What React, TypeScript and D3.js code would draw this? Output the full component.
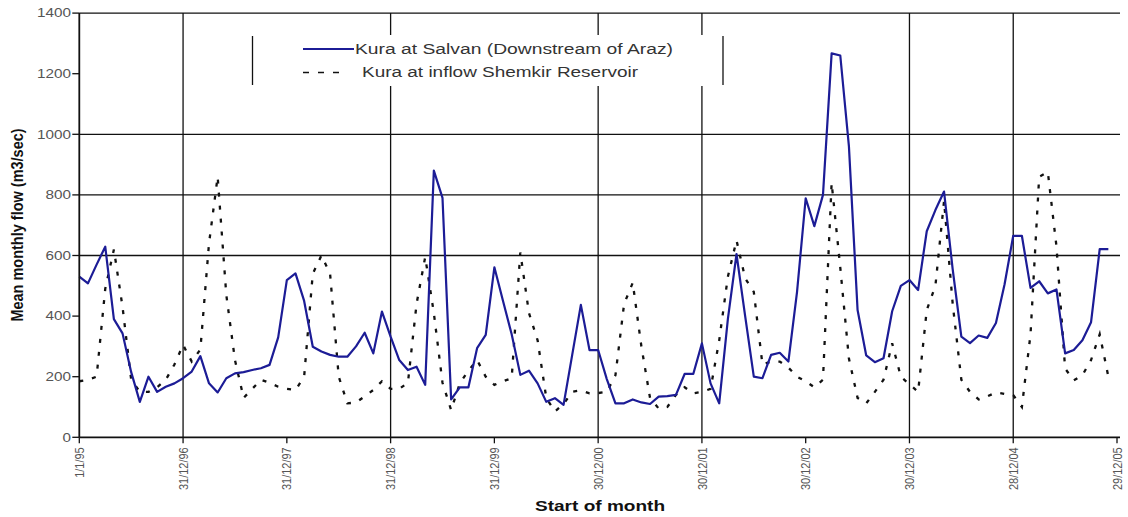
import React from "react";
import * as d3 from "d3";

const tickLabels = ["1/1/95","31/12/96","31/12/97","31/12/98","31/12/99","30/12/00","30/12/01","30/12/02","30/12/03","28/12/04","29/12/05"];
const yTicks = [0, 200, 400, 600, 800, 1000, 1200, 1400];
const hGridValues = [600, 800, 1000, 1400];
const vGridTickIdx = [1, 3, 5, 6, 8, 9];

const salyan = [
  530, 508, 570, 629, 390, 343, 215, 117, 200, 150, 167, 178,
  195, 217, 268, 178, 148, 195, 211, 215, 222, 228, 239, 330,
  519, 541, 450, 299, 283, 272, 266, 266, 300, 345, 277, 415,
  332, 255, 222, 233, 173, 880, 790, 125, 165, 165, 294, 338,
  561, 450, 340, 206, 220, 178, 117, 129, 107, 272, 437, 288,
  288, 192, 112, 112, 125, 115, 110, 134, 136, 140, 209, 209,
  310, 178, 112, 390, 605, 400, 200, 195, 272, 279, 250, 480,
  789, 697, 800, 1267, 1260, 960, 420, 270, 248, 261, 416, 500,
  519, 486, 680, 750, 811, 554, 332, 311, 336, 328, 377, 505,
  665, 665, 493, 515, 475, 488, 277, 288, 320, 380, 621, 621,
];

const shemkir = [
  185, 190, 200, 490, 620, 430, 190, 150, 150, 165, 190, 240,
  305, 250, 290, 640, 860, 470, 255, 130, 160, 190, 180, 167,
  160, 156, 200, 540, 600, 540, 200, 112, 115, 135, 156, 185,
  160, 160, 180, 440, 595, 410, 180, 90, 178, 220, 255, 200,
  173, 185, 195, 610, 410, 320, 130, 85, 110, 150, 155, 145,
  146, 150, 205, 440, 510, 300, 130, 95, 100, 140, 165, 145,
  150, 160, 320, 530, 650, 525, 480, 240, 250, 250, 230, 200,
  185, 165, 190, 840, 560, 260, 130, 112, 150, 190, 310, 200,
  175, 150, 420, 500, 780, 440, 190, 150, 125, 135, 148, 143,
  139, 100, 340, 860, 876, 630, 227, 188, 205, 255, 340, 200,
];

const seriesNames = ["Kura at Salvan (Downstream of Araz)", "Kura at inflow Shemkir Reservoir"];

const W = 1128, H = 517;
const left = 79.3, right = 1117, top = 13.1, bottom = 437.3;
const FONT = "'Liberation Sans', Arial, sans-serif";

export default function App() {
  const x = d3.scaleLinear().domain([0, 120]).range([left, right]);
  const y = d3.scaleLinear().domain([0, 1400]).range([bottom, top]);
  const line = d3.line<number>().x((_, i) => x(i)).y((d) => y(d));
  const tickPos = tickLabels.map((_, k) => x(k * 12));

  return (
    <svg width={W} height={H} style={{ position: "absolute", left: 0, top: 0, background: "#fff" }} fontFamily={FONT}>
      <rect x={0} y={0} width={W} height={H} fill="#fff" />
      {hGridValues.map((v) => (
        <line key={"h" + v} x1={left} x2={right + 3} y1={y(v)} y2={y(v)} stroke="#111" strokeWidth={1.3} />
      ))}
      {vGridTickIdx.map((k) => (
        <line key={"v" + k} x1={tickPos[k]} x2={tickPos[k]} y1={top} y2={bottom} stroke="#111" strokeWidth={1.3} />
      ))}
      <rect x={252} y={35} width={471} height={51} fill="#fff" />
      <line x1={252.5} x2={252.5} y1={36} y2={85} stroke="#111" strokeWidth={1.3} />
      <line x1={723} x2={723} y1={36} y2={85} stroke="#111" strokeWidth={1.3} />
      <line x1={303} x2={354} y1={49} y2={49} stroke="#1c1c96" strokeWidth={2.2} />
      <text x={355} y={49} dy="0.35em" fontSize={14} fill="#333" textLength={318} lengthAdjust="spacingAndGlyphs">{seriesNames[0]}</text>
      <line x1={303} x2={345} y1={72.5} y2={72.5} stroke="#111" strokeWidth={1.4} strokeDasharray="6,9" />
      <text x={362} y={72.5} dy="0.35em" fontSize={14} fill="#333" textLength={276} lengthAdjust="spacingAndGlyphs">{seriesNames[1]}</text>

      <path d={line(shemkir) || ""} fill="none" stroke="#111" strokeWidth={2.3} strokeDasharray="4,9" />
      <path d={line(salyan) || ""} fill="none" stroke="#1c1c96" strokeWidth={2.2} strokeLinejoin="round" />

      <line x1={left} x2={left} y1={top} y2={bottom} stroke="#111" strokeWidth={1.8} />
      {yTicks.map((v) => (
        <g key={"yt" + v}>
          <line x1={left - 7} x2={left} y1={y(v)} y2={y(v)} stroke="#111" strokeWidth={1.3} />
          <text x={71} y={y(v)} dy="0.35em" textAnchor="end" fontSize={12} fill="#555" textLength={String(v).length * 8.5} lengthAdjust="spacingAndGlyphs">{v}</text>
        </g>
      ))}
      <line x1={left} x2={right + 3} y1={bottom} y2={bottom} stroke="#111" strokeWidth={1.8} />
      {tickLabels.map((lab, k) => (
        <g key={"xt" + k}>
          <line x1={tickPos[k]} x2={tickPos[k]} y1={bottom} y2={bottom + 6} stroke="#111" strokeWidth={1.3} />
          <text transform={`translate(${tickPos[k]},${bottom + 10}) rotate(-90) scale(1,1.2)`} dy="0.35em" textAnchor="end" fontSize={11} fill="#555">{lab}</text>
        </g>
      ))}
      <text x={600} y={511} textAnchor="middle" fontSize={14} fontWeight="bold" fill="#111" textLength={130} lengthAdjust="spacingAndGlyphs">Start of month</text>
      <text transform={`translate(17,225) rotate(-90) scale(1,1.2)`} dy="0.35em" textAnchor="middle" fontSize={14.5} fontWeight="bold" fill="#111">Mean monthly flow (m3/sec)</text>
    </svg>
  );
}
